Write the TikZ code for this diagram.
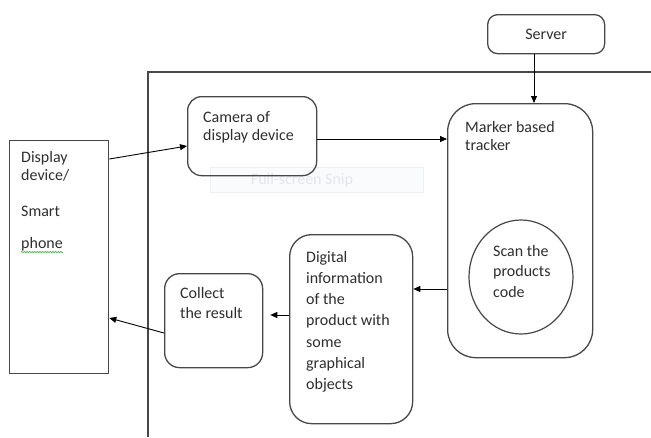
\documentclass[tikz,border=0pt]{standalone}
\usepackage{fontspec}
\setmainfont{Carlito}
\usetikzlibrary{arrows.meta,shapes.geometric,calc,decorations.pathmorphing}
\definecolor{ink}{HTML}{2E2E2E}
\definecolor{edge}{HTML}{474747}
\definecolor{spell}{HTML}{5DB85D}
\definecolor{snipline}{HTML}{EEF0F3}
\definecolor{snipfill}{HTML}{FAFBFC}
\definecolor{sniptext}{HTML}{E3E5E9}

\begin{document}
\begin{tikzpicture}[x=1pt,y=-1pt,
  box/.style={draw=edge, line width=1.3pt, anchor=north west, inner sep=0pt},
  txt/.style={anchor=north west, inner sep=0pt, align=left, text=ink,
              font=\fontsize{16}{18}\selectfont},
  arr/.style={draw=black, line width=0.9pt, -{Triangle[length=7pt,width=6pt]}},
]
\useasboundingbox (0,0) rectangle (651,437);

% frame around the processing side
\draw[edge, line width=1.3pt] (651,72) -- (148,72) -- (148,437);

% faint snipping-tool overlay
\node[fill=snipfill, draw=snipline, minimum width=213pt, minimum height=25pt, inner sep=0pt] (snip) at (317,180) {};
\node[text=sniptext, inner sep=0pt, font=\fontsize{16}{18}\selectfont] (sniptxt) at (302,180) {Full-screen Snip};

% boxes
\node[box, minimum width=99pt, minimum height=233pt] (disp) at (9,140) {};
\node[box, rounded corners=14pt, minimum width=129pt, minimum height=79pt] (cam) at (187,96) {};
\node[box, rounded corners=10pt, minimum width=117pt, minimum height=39pt] (srv) at (487,14) {};
\node[box, rounded corners=28pt, minimum width=145pt, minimum height=254pt] (trk) at (447,103) {};
\node[draw=edge, line width=1.2pt, ellipse, inner sep=0pt, minimum width=104pt, minimum height=114pt] (scan) at (521,277) {};
\node[box, rounded corners=22pt, minimum width=123pt, minimum height=189pt] (dig) at (289,234) {};
\node[box, rounded corners=15pt, minimum width=98pt, minimum height=94pt] (col) at (164,273) {};

% labels
\node[txt] (dispA) at (21,151) {Display\\device/};
\node[txt] (dispB) at (21,206) {Smart};
\node[txt] (dispC) at (21,237) {phone};
\draw[spell, line width=0.8pt, decorate, decoration={snake, amplitude=0.7pt, segment length=2.6pt}]
  ($(dispC.south west)+(0,1)$) -- ($(dispC.south east)+(0,1)$);
\node[txt] (camtxt) at (203,111) {Camera of\\display device};
\node[text=ink, inner sep=0pt, font=\fontsize{16}{18}\selectfont] (srvtxt) at (srv.center) {Server};
\node[txt] (trktxt) at (465,121) {Marker based\\tracker};
\node[txt, font=\fontsize{16}{20.5}\selectfont] (scantxt) at (493,245) {Scan the\\products\\code};
\node[txt, font=\fontsize{16}{21.2}\selectfont] (digtxt) at (306,251) {Digital\\information\\of the\\product with\\some\\graphical\\objects};
\node[txt, font=\fontsize{16}{20}\selectfont] (coltxt) at (180,287) {Collect\\the result};

% connectors
\draw[arr] ($(disp.north east)+(0,19)$) -- ($(cam.north west)+(0,50)$);
\draw[arr] ($(cam.north east)+(0,43)$) -- ($(trk.north west)+(0,36)$);
\draw[arr] ($(srv.south west)+(47,0)$) coordinate (s1) -- (s1 |- trk.north);
\draw[arr] ($(trk.north west)+(0,186)$) coordinate (t1) -- (t1 -| dig.east);
\draw[arr, shorten >=7pt] ($(dig.north west)+(0,81)$) coordinate (d1) -- (d1 -| col.east);
\draw[arr] ($(col.north west)+(0,60)$) -- ($(disp.north east)+(0,178)$);
\end{tikzpicture}
\end{document}
